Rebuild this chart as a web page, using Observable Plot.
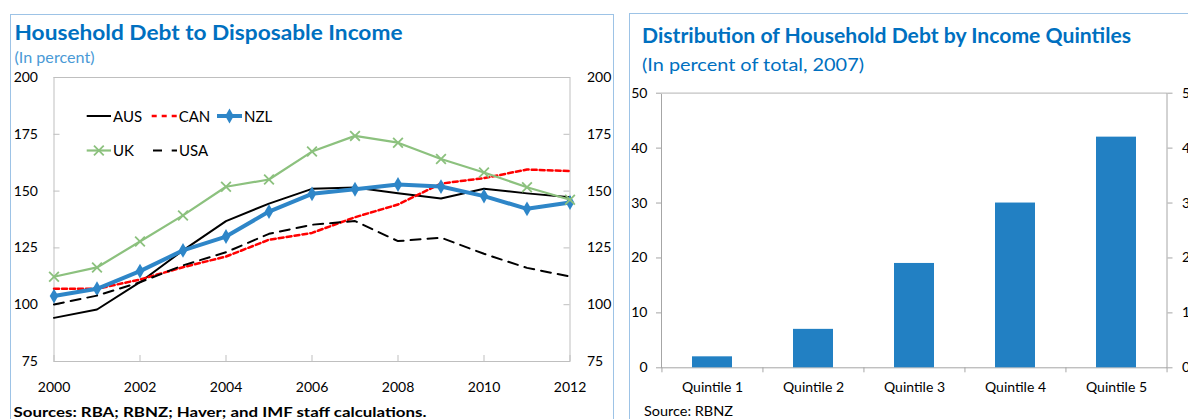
<!DOCTYPE html>
<html><head><meta charset="utf-8">
<script src="https://cdn.jsdelivr.net/npm/d3@7"></script>
<script src="https://cdn.jsdelivr.net/npm/@observablehq/plot@0.6"></script>
<style>
html,body{margin:0;padding:0;background:#fff;}
body{width:1188px;height:419px;overflow:hidden;position:relative;font-family:Lato,"Open Sans",sans-serif;}
.panel{position:absolute;border:1px solid #9dc3e6;box-sizing:border-box;}
#left{position:absolute;left:0;top:60px;width:613px;}
#right{position:absolute;left:600px;top:75px;width:620px;}
#left svg,#right svg{max-width:none !important;}
#overlay{position:absolute;left:0;top:0;}
</style></head><body>
<div class="panel" style="left:10px;top:14px;width:604px;height:440px;"></div>
<div class="panel" style="left:629px;top:13px;width:640px;height:440px;"></div>
<div id="left"></div><div id="right"></div>
<svg id="overlay" width="1188" height="419" font-family="Lato, 'Open Sans', sans-serif"></svg>
<script>
// ---- Data: household debt to disposable income (percent) ----
const years = [2000,2001,2002,2003,2004,2005,2006,2007,2008,2009,2010,2011,2012];
const aus = [94.2, 97.9, 109.9, 123.9, 136.8, 144.5, 151.0, 151.6, 149.1, 146.7, 151.0, 149.0, 147.3];
const can = [107.0, 107.0, 111.1, 116.5, 121.2, 128.6, 131.6, 138.5, 144.1, 153.3, 155.7, 159.5, 158.8];
const nzl = [103.8, 107.0, 114.8, 123.9, 130.0, 141.0, 148.8, 150.8, 152.9, 152.0, 147.8, 142.2, 145.0];
const uk  = [112.3, 116.4, 127.8, 139.3, 151.9, 155.1, 167.4, 174.3, 171.3, 164.1, 158.2, 151.7, 146.2];
const usa = [100.1, 104.0, 109.9, 117.3, 123.1, 131.2, 135.2, 136.8, 128.0, 129.5, 122.4, 116.2, 112.4];
const xTicks = [2000,2002,2004,2006,2008,2010,2012];
const yTicks = [75,100,125,150,175,200];

// ---- Data: distribution of household debt by income quintiles (percent of total, 2007) ----
const quintiles = ["Quintile 1","Quintile 2","Quintile 3","Quintile 4","Quintile 5"];
const shares = [2, 7, 19, 30, 42];
const barTicks = [0,10,20,30,40,50];

const FONT = "Lato, 'Open Sans', sans-serif";
const rows = (vals) => years.map((y,i) => ({year: y, value: vals[i]}));

// ---------- Left chart ----------
const LW = 613, LH = 345, LML = 53.5, LMR = 43.5, LMT = 17, LMB = 44;
const LPW = LW - LML - LMR, LPH = LH - LMT - LMB;
const grid = "#bfbfbf";
const left = Plot.plot({
  width: LW, height: LH, marginLeft: LML, marginRight: LMR, marginTop: LMT, marginBottom: LMB,
  style: {fontFamily: FONT, fontSize: "14px", color: "#000", background: "transparent", overflow: "visible", maxWidth: "none"},
  x: {domain: [2000, 2012], label: null},
  y: {domain: [75, 200], label: null},
  marks: [
    Plot.frame({stroke: grid}),
    Plot.ruleX(xTicks, {x: d => d, insetTop: LPH - 6, stroke: grid}),
    Plot.ruleY(yTicks, {y: d => d, insetRight: LPW - 6, stroke: grid}),
    Plot.ruleY(yTicks, {y: d => d, insetLeft: LPW - 6, stroke: grid}),
    Plot.axisX({ticks: xTicks, tickFormat: d => String(d), tickSize: 0, tickPadding: 21, label: null, fontSize: 14}),
    Plot.axisY({anchor: "left", ticks: yTicks, tickSize: 0, tickPadding: 16, label: null, fontSize: 14}),
    Plot.axisY({anchor: "right", ticks: yTicks, tickSize: 0, tickPadding: 17, label: null, fontSize: 14}),
    Plot.line(rows(aus), {x: "year", y: "value", stroke: "#000", strokeWidth: 2}),
    Plot.line(rows(can), {x: "year", y: "value", stroke: "#ff0000", strokeWidth: 2.5, strokeDasharray: "5,3"}),
    Plot.line(rows(nzl), {x: "year", y: "value", stroke: "#2e86c8", strokeWidth: 4}),
    Plot.dot(rows(nzl), {x: "year", y: "value", symbol: "diamond", r: 4.5, fill: "#2e86c8", stroke: "none"}),
    Plot.line(rows(uk), {x: "year", y: "value", stroke: "#8cc17e", strokeWidth: 2.2}),
    Plot.dot(rows(uk), {x: "year", y: "value", symbol: "times", r: 4.5, stroke: "#8cc17e", strokeWidth: 1.8}),
    Plot.line(rows(usa), {x: "year", y: "value", stroke: "#000", strokeWidth: 2, strokeDasharray: "10,7"})
  ]
});
document.getElementById("left").appendChild(left);

// ---------- Right chart ----------
const RW = 620, RH = 330, RML = 61, RMR = 53.5, RMT = 17.7, RMB = 37.7;
const RPW = RW - RML - RMR;
const step = RPW / quintiles.length;
const axisCol = "#a6a6a6";
const right = Plot.plot({
  width: RW, height: RH, marginLeft: RML, marginRight: RMR, marginTop: RMT, marginBottom: RMB,
  style: {fontFamily: FONT, fontSize: "14px", color: "#000", background: "transparent", overflow: "visible", maxWidth: "none"},
  x: {domain: quintiles, paddingInner: 0.6, paddingOuter: 0.3, label: null},
  y: {domain: [0, 50], label: null},
  marks: [
    Plot.frame({stroke: axisCol}),
    Plot.ruleY([50], {stroke: "#d9d9d9"}),
    Plot.barY(quintiles, {x: d => d, y: (d, i) => shares[i], fill: "#2280c3"}),
    Plot.axisX({tickSize: 0, tickPadding: 14, label: null, fontSize: 14}),
    Plot.axisX({tickSize: 5, dx: -step / 2, tickFormat: () => "", label: null, stroke: axisCol}),
    Plot.axisX({ticks: [quintiles[quintiles.length - 1]], tickSize: 5, dx: step / 2, tickFormat: () => "", label: null, stroke: axisCol}),
    Plot.axisY({anchor: "left", ticks: barTicks, tickSize: 5, tickPadding: 9, label: null, stroke: axisCol, fontSize: 14}),
    Plot.axisY({anchor: "right", ticks: barTicks, tickSize: 5, tickPadding: 10, label: null, stroke: axisCol, fontSize: 14})
  ]
});
document.getElementById("right").appendChild(right);

// ---------- Titles, notes and legend ----------
const ov = d3.select("#overlay");
function txt(x, y, s, size, fill, weight, len) {
  const t = ov.append("text").attr("x", x).attr("y", y).attr("font-size", size)
    .attr("fill", fill).attr("font-weight", weight || "normal").text(s);
  if (len) t.attr("textLength", len).attr("lengthAdjust", "spacingAndGlyphs");
  return t;
}
txt(14.5, 40, "Household Debt to Disposable Income", 20, "#0070c0", "bold", 388);
txt(14.5, 63, "(In percent)", 15, "#4a9ad6", "normal", 80);
txt(642, 43.3, "Distribution of Household Debt by Income Quintiles", 20, "#0070c0", "bold", 489);
txt(642, 71, "(In percent of total, 2007)", 18, "#0070c0", "normal", 222);
txt(13.5, 416.5, "Sources: RBA; RBNZ; Haver; and IMF staff calculations.", 14, "#000", "bold", 413);
txt(644, 415.5, "Source: RBNZ", 14, "#000", "normal", 89);

// legend
const legend = [
  {name: "AUS", x1: 86.7, x2: 111, y: 116, stroke: "#000", w: 2, dash: null, sym: null},
  {name: "CAN", x1: 151.7, x2: 176.7, y: 116, stroke: "#ff0000", w: 2.5, dash: "5,5", sym: null},
  {name: "NZL", x1: 217, x2: 242, y: 116, stroke: "#2e86c8", w: 4, dash: null, sym: d3.symbolDiamond},
  {name: "UK",  x1: 86.7, x2: 111, y: 150.5, stroke: "#8cc17e", w: 2.2, dash: null, sym: d3.symbolTimes},
  {name: "USA", x1: 153, x2: 177, y: 150.5, stroke: "#000", w: 2, dash: "9,9.7", sym: null}
];
legend.forEach(l => {
  const ln = ov.append("line").attr("x1", l.x1).attr("x2", l.x2).attr("y1", l.y).attr("y2", l.y)
    .attr("stroke", l.stroke).attr("stroke-width", l.w);
  if (l.dash) ln.attr("stroke-dasharray", l.dash);
  if (l.sym) {
    const p = ov.append("path").attr("d", d3.symbol(l.sym, 64)())
      .attr("transform", `translate(${(l.x1 + l.x2) / 2},${l.y})`);
    if (l.sym === d3.symbolTimes) p.attr("fill", "none").attr("stroke", l.stroke).attr("stroke-width", 1.8);
    else p.attr("fill", l.stroke);
  }
  txt(l.x2 + 2, l.y + 5.5, l.name, 15, "#000", "normal");
});
</script>
</body></html>
